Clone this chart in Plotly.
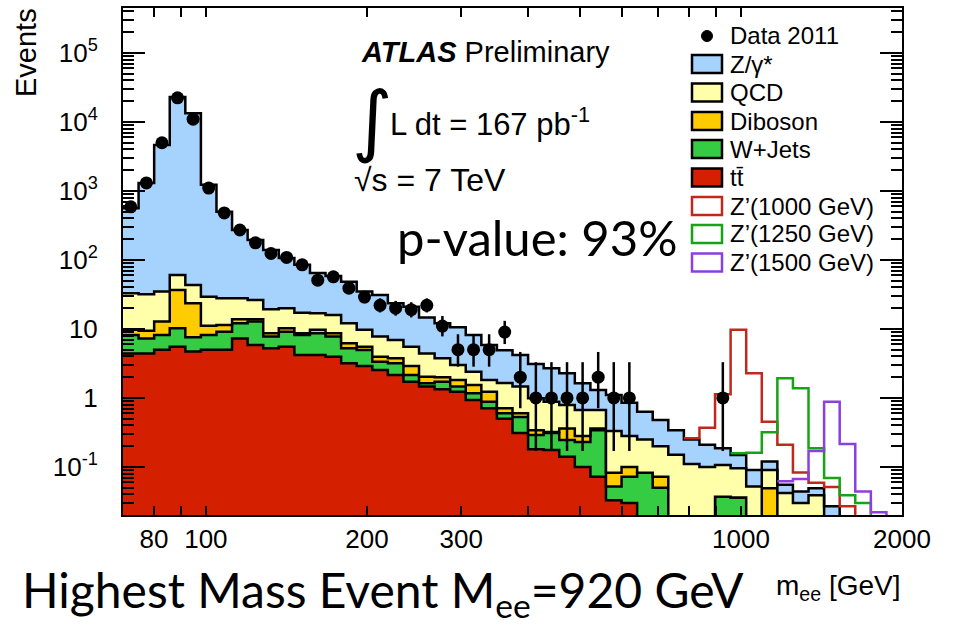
import numpy as np
import plotly.graph_objects as go

# ---- binning: 50 log-spaced bins in m_ee ----
mass_min, mass_max, n_bins = 70.0, 2000.0, 50
edges = np.geomspace(mass_min, mass_max, n_bins + 1)
centers = np.sqrt(edges[:-1] * edges[1:])

# ---- expected background per bin (events) ----
ttbar = [4.4, 4.4, 5.0, 5.5, 4.7, 5.0, 5.0, 7.3, 5.85, 5.25,
         5.5, 4.2, 4.2, 3.97, 3.18, 2.9, 2.55, 2.15, 1.72, 1.46,
         1.34, 1.23, 0.93, 0.71, 0.50, 0.31, 0.18, 0.176, 0.14, 0.10,
         0.072, 0.033, 0.03, 0, 0, 0, 0, 0, 0, 0,
         0, 0, 0, 0, 0, 0, 0, 0, 0, 0]
wjets = [3.8, 2.9, 3.2, 4.7, 2.85, 3.2, 4.1, 4.8, 6.95, 2.5,
         3.6, 4.0, 4.45, 3.78, 2.07, 2.06, 0.81, 1.03, 0.43, 0.17,
         0.38, 0.23, 0.24, 0.17, 0.10, 0.22, 0.11, 0.134, 0.106, 0.13,
         0.268, 0.019, 0.042, 0.082, 0.05, 0, 0, 0, 0.037, 0.036,
         0, 0, 0, 0, 0, 0, 0, 0, 0, 0]
diboson = [1.5, 2.15, 4.6, 26.5, 16.0, 2.9, 2.3, 1.7, 1.0, 0.9,
           1.1, 0.45, 1.05, 0.9, 0.95, 0.54, 0.61, 0.58, 0.75, 0.40,
           0.27, 0.36, 0.37, 0.35, 0.11, 0.07, 0.05, 0.01, 0.114, 0.05,
           0.02, 0.03, 0.028, 0, 0.022, 0, 0, 0, 0, 0,
           0, 0.049, 0, 0, 0, 0, 0, 0, 0, 0]
qcd = [23.1, 22.5, 22.0, 23.9, 19.8, 18.3, 16.4, 14.0, 12.5, 10.65,
       9.7, 8.55, 7.2, 7.25, 5.9, 4.2, 3.78, 3.14, 2.6, 2.37,
       1.77, 1.18, 0.86, 0.59, 0.94, 0.86, 0.65, 0.56, 0.43, 0.39,
       0.31, 0.25, 0.18, 0.168, 0.128, 0.15, 0.11, 0.10, 0.07, 0.06,
       0.052, 0.041, 0.042, 0.03, 0.039, 0, 0, 0, 0, 0]
zgamma = [527, 1278, 4615, 22940, 13357, 1200, 472, 244, 169, 120,
          87, 68, 48, 42.6, 36.4, 25.1, 23.25, 16.6, 15.5, 10.3,
          8.34, 7.6, 5.8, 4.03, 3.25, 2.74, 2.11, 1.82, 1.49, 0.96,
          0.63, 0.77, 0.57, 0.38, 0.28, 0.19, 0.14, 0.11, 0.08, 0.053,
          0.038, 0.03, 0.013, 0.014, 0.01, 0.027, 0, 0, 0, 0]

# ---- observed events (2011) with 68% Poisson intervals ----
data_counts = [590, 1310, 5000, 22400, 11000, 1100, 480, 272, 177, 124,
               109, 85, 51, 57, 39, 29, 22, 20, 19, 22,
               11, 5, 5, 5, 9, 2, 1, 1, 1, 1,
               2, 1, 1, None, None, None, None, None, 1, None,
               None, None, None, None, None, None, None, None, None, None]
data_err_lo = [24, 36, 71, 150, 105, 33, 22, 16.5, 13.3, 11.1,
               10.4, 9.2, 7.1, 7.5, 6.2, 5.4, 4.65, 4.4, 4.3, 4.65,
               3.2, 2.16, 2.16, 2.16, 2.96, 1.29, 0.83, 0.83, 0.83, 0.83,
               1.29, 0.83, 0.83, 0, 0, 0, 0, 0, 0.83, 0,
               0, 0, 0, 0, 0, 0, 0, 0, 0, 0]
data_err_hi = [24, 36, 71, 150, 105, 33, 22, 16.5, 13.3, 11.1,
               10.4, 9.2, 7.1, 7.5, 6.2, 5.4, 5.76, 5.5, 5.4, 5.76,
               4.4, 3.38, 3.38, 3.38, 4.11, 2.64, 2.30, 2.30, 2.30, 2.30,
               2.64, 2.30, 2.30, 0, 0, 0, 0, 0, 2.30, 0,
               0, 0, 0, 0, 0, 0, 0, 0, 0, 0]

# ---- Z' signal + background expectation (only where drawn) ----
_ = None
zprime_1000 = [_] * 36 + [0.26, 0.37, 1.13, 9.7, 2.28, 0.45, 0.21, 0.083,
                          0.059, 0.051, 0.027] + [_] * 3
zprime_1250 = [_] * 39 + [0.158, 0.16, 0.318, 1.93, 1.38, 0.186, 0.069,
                          0.039, 0.03] + [_] * 2
zprime_1500 = [_] * 42 + [0.062, 0.067, 0.17, 0.88, 0.215, 0.044, 0.022] + [_]

# ---- styling ----
FLOOR = 1e-3
TT_COL, WJ_COL, DB_COL, QCD_COL, ZG_COL = "#d42000", "#35cc44", "#ffcc00", "#ffffaa", "#a6d2fe"
ZP_COLS = ["#c0281c", "#16a416", "#8a3fe0"]
FONT = "Liberation Sans, Arial, Helvetica, sans-serif"
BIG_FONT = "Lato, Open Sans, sans-serif"

# plot-area placement in pixels
W, H = 954, 626
L, R, T, B = 123, 902, 8, 515


def px(x):
    return (x - L) / (R - L)


def py(y):
    return (B - y) / (B - T)


fig = go.Figure()

# stacked backgrounds, bottom to top, drawn as outlined step fills
layers = [("tt", ttbar, TT_COL), ("W+Jets", wjets, WJ_COL), ("Diboson", diboson, DB_COL),
          ("QCD", qcd, QCD_COL), ("Z/γ*", zgamma, ZG_COL)]
cum = np.zeros(n_bins)
fig.add_trace(go.Scatter(x=edges, y=np.full(n_bins + 1, FLOOR), mode="lines",
                         line=dict(width=0, shape="hv"), showlegend=False, hoverinfo="skip"))
for name, vals, col in layers:
    cum = cum + np.array(vals, dtype=float)
    top = np.maximum(cum, FLOOR)
    fig.add_trace(go.Scatter(
        x=edges, y=np.append(top, top[-1]), mode="lines", name=name,
        line=dict(color="black", width=2.5, shape="hv"),
        fill="tonexty", fillcolor=col, showlegend=False, hoverinfo="skip"))

# Z' outlines
for vals, col in zip([zprime_1000, zprime_1250, zprime_1500], ZP_COLS):
    idx = [i for i, v in enumerate(vals) if v is not None]
    xs = [edges[i] for i in idx] + [edges[idx[-1] + 1]]
    ys = [vals[i] for i in idx] + [FLOOR]
    fig.add_trace(go.Scatter(x=xs, y=ys, mode="lines",
                             line=dict(color=col, width=2.5, shape="hv"),
                             showlegend=False, hoverinfo="skip"))

# data points
fig.add_trace(go.Scatter(
    x=centers, y=data_counts, mode="markers",
    marker=dict(color="black", size=13),
    error_y=dict(type="data", array=data_err_hi, arrayminus=data_err_lo,
                 color="black", thickness=2.5, width=0),
    showlegend=False, hoverinfo="skip"))

# ---- axes ----
y_major = [10.0 ** k for k in range(-1, 6)]
y_major_text = ["10<sup>-1</sup>", "1", "10", "10<sup>2</sup>", "10<sup>3</sup>",
                "10<sup>4</sup>", "10<sup>5</sup>"]
y_minor = [m * 10.0 ** k for k in range(-2, 6) for m in range(2, 10)]
x_major = [80, 100, 200, 300, 1000, 2000]
x_minor = [70, 90, 400, 500, 600, 700, 800, 900]
x_long = [100, 1000]

fig.update_xaxes(type="log", range=[np.log10(mass_min), np.log10(mass_max)],
                 tickvals=x_major, ticktext=[str(v) for v in x_major],
                 ticks="inside", ticklen=9, tickwidth=1.5, tickcolor="black",
                 minor=dict(tickvals=x_minor, ticks="inside", ticklen=9,
                            tickwidth=1.5, tickcolor="black", showgrid=False),
                 showline=True, linecolor="black", linewidth=2, mirror="allticks",
                 showgrid=False, zeroline=False,
                 tickfont=dict(family=FONT, size=26, color="black"),
                 ticklabelstandoff=0)
fig.update_yaxes(type="log", range=[np.log10(0.0201), np.log10(4.49e5)],
                 tickvals=y_major, ticktext=y_major_text,
                 ticks="inside", ticklen=22, tickwidth=1.5, tickcolor="black",
                 minor=dict(tickvals=y_minor, ticks="inside", ticklen=11,
                            tickwidth=1.5, tickcolor="black", showgrid=False),
                 showline=True, linecolor="black", linewidth=2, mirror="allticks",
                 showgrid=False, zeroline=False,
                 tickfont=dict(family=FONT, size=26, color="black"),
                 ticklabelstandoff=18)

shapes = []
annotations = []

# longer x ticks at the decades, bottom and top edges
for xv in x_long:
    for y0, y1 in [(0, 15), (B - T - 15, B - T)]:
        shapes.append(dict(type="line", xref="x", yref="paper",
                           x0=np.log10(xv), x1=np.log10(xv),
                           y0=y0 / (B - T), y1=y1 / (B - T),
                           line=dict(color="black", width=1.5), layer="above"))

# ---- legend (drawn as shapes + labels) ----
leg_x0, leg_x1, leg_tx = 692, 722, 728
entries = [
    ("Data 2011", None, None, 36),
    ("Z/γ*", ZG_COL, "black", 64),
    ("QCD", QCD_COL, "black", 92.5),
    ("Diboson", DB_COL, "black", 121),
    ("W+Jets", WJ_COL, "black", 149),
    ("tt\u0304", TT_COL, "black", 177.5),
    ("Z’(1000 GeV)", "white", ZP_COLS[0], 206),
    ("Z’(1250 GeV)", "white", ZP_COLS[1], 234),
    ("Z’(1500 GeV)", "white", ZP_COLS[2], 262.5),
]
for label, fillc, linec, yc in entries:
    if fillc is None:
        shapes.append(dict(type="circle", xref="paper", yref="paper",
                           x0=px(701.5), x1=px(712.5), y0=py(yc + 5.5), y1=py(yc - 5.5),
                           fillcolor="black", line=dict(color="black", width=1)))
    else:
        shapes.append(dict(type="rect", xref="paper", yref="paper",
                           x0=px(leg_x0), x1=px(leg_x1), y0=py(yc + 9), y1=py(yc - 9),
                           fillcolor=fillc, line=dict(color=linec, width=2.5)))
    annotations.append(dict(text=label, xref="paper", yref="paper", x=px(leg_tx), y=py(yc),
                            xanchor="left", yanchor="middle", showarrow=False,
                            font=dict(family=FONT, size=24, color="black")))


def note(text, x, y, size, family=FONT, xanchor="left", angle=0):
    annotations.append(dict(text=text, xref="paper", yref="paper", x=px(x), y=py(y),
                            xanchor=xanchor, yanchor="middle", showarrow=False,
                            textangle=angle,
                            font=dict(family=family, size=size, color="black")))


note("<b><i>ATLAS</i></b> Preliminary", 359, 52, 29)
note("∫", 350, 120, 78, family="DejaVu Sans")
note("L dt = 167 pb<sup>-1</sup>", 388, 122, 31)
note("√s = 7 TeV", 352, 180, 32)
note("p-value: 93%", 395, 237, 49, family=BIG_FONT)
note("Events", 26, 53, 29, angle=-90, xanchor="center")
note("m<sub>ee</sub> [GeV]", 903, 587, 28, xanchor="right")
note("Highest Mass Event M<sub>ee</sub>=920 GeV", 20, 593, 48, family=BIG_FONT)

fig.update_layout(width=W, height=H, margin=dict(l=L, r=W - R, t=T, b=H - B, autoexpand=False),
                  paper_bgcolor="white", plot_bgcolor="white",
                  shapes=shapes, annotations=annotations, showlegend=False)

fig.write_html("out.html")
